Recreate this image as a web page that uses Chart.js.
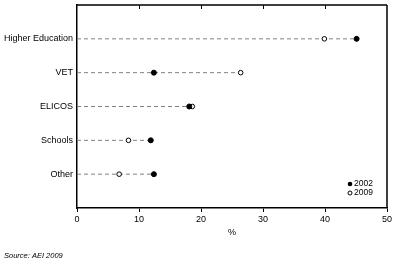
<!DOCTYPE html>
<html><head><meta charset="utf-8">
<script src="https://cdn.jsdelivr.net/npm/chart.js@4/dist/chart.umd.min.js"></script>
<style>html,body{margin:0;padding:0;background:#fff}#wrap{width:397px;height:265px}</style>
</head><body><div id="wrap"><canvas id="c" width="397" height="265"></canvas></div>
<script>
const categories = ["Higher Education", "VET", "ELICOS", "Schools", "Other"];
const values2002 = [45.1, 12.4, 18.1, 11.9, 12.4];
const values2009 = [39.9, 26.4, 18.6, 8.3, 6.8];
const seriesNames = ["2002", "2009"];
const xTicks = [0, 10, 20, 30, 40, 50];
const sourceText = "Source: AEI 2009";
const axisTitle = "%";

const FONT = "'Liberation Sans', Arial, sans-serif";

const lineSets = categories.map((c, i) => ({
  type: 'line',
  data: [{x: 0, y: i + 1}, {x: Math.max(values2002[i], values2009[i]), y: i + 1}],
  borderColor: '#808080', borderWidth: 1, borderDash: [4, 3],
  pointRadius: 0, fill: false, order: 3
}));

const frame = {
  id: 'frame',
  afterDraw(chart) {
    const ctx = chart.ctx, a = chart.chartArea, xs = chart.scales.x;
    ctx.save();
    ctx.strokeStyle = '#000'; ctx.lineWidth = 1.5;
    ctx.beginPath();
    ctx.moveTo(a.left, a.top); ctx.lineTo(a.right, a.top);
    ctx.moveTo(a.right, a.top); ctx.lineTo(a.right, a.bottom);
    ctx.stroke();
    ctx.lineWidth = 1;
    xTicks.slice(1, -1).forEach(v => {
      const px = Math.round(xs.getPixelForValue(v)) + 0.5;
      ctx.beginPath(); ctx.moveTo(px, a.top); ctx.lineTo(px, a.top + 4); ctx.stroke();
    });
    // legend
    ctx.font = '8.5px ' + FONT; ctx.fillStyle = '#000'; ctx.textBaseline = 'middle';
    const lx = a.right - 37;
    const ly = [a.bottom - 24, a.bottom - 15];
    ctx.beginPath(); ctx.arc(lx, ly[0], 2.3, 0, Math.PI * 2); ctx.fill();
    ctx.beginPath(); ctx.arc(lx, ly[1], 2, 0, Math.PI * 2); ctx.lineWidth = 1; ctx.stroke();
    ctx.fillText(seriesNames[0], lx + 4, ly[0]);
    ctx.fillText(seriesNames[1], lx + 4, ly[1]);
    // source
    ctx.font = 'italic 7.5px ' + FONT;
    ctx.fillText(sourceText, 4, 256);
    ctx.restore();
  }
};

new Chart(document.getElementById('c'), {
  type: 'scatter',
  data: {
    datasets: [
      ...lineSets,
      { label: seriesNames[0], data: values2002.map((v, i) => ({x: v, y: i + 1})),
        pointStyle: 'circle', pointRadius: 2.5, backgroundColor: '#000', borderColor: '#000', borderWidth: 1, order: 1 },
      { label: seriesNames[1], data: values2009.map((v, i) => ({x: v, y: i + 1})),
        pointStyle: 'circle', pointRadius: 2.3, backgroundColor: '#fff', borderColor: '#000', borderWidth: 1, order: 2 }
    ]
  },
  options: {
    responsive: false, animation: false, devicePixelRatio: 1,
    layout: { padding: { top: 5, right: 10, left: 0, bottom: 27 } },
    plugins: { legend: { display: false }, tooltip: { enabled: false } },
    scales: {
      x: {
        type: 'linear', min: 0, max: 50,
        afterBuildTicks: s => { s.ticks = xTicks.map(v => ({value: v})); },
        ticks: { color: '#000', font: { family: FONT, size: 9 }, padding: 2, maxRotation: 0 },
        grid: { display: true, drawOnChartArea: false, drawTicks: true, tickLength: 4, color: '#000', lineWidth: 1 },
        border: { display: true, color: '#000', width: 1.5 },
        title: { display: true, text: axisTitle, color: '#000', font: { family: FONT, size: 9 }, padding: { top: 2, bottom: 0 } },
        afterFit: s => { s.height = 30; s.paddingLeft = 0; s.paddingRight = 0; }
      },
      y: {
        type: 'linear', min: 0, max: 6, reverse: true,
        afterBuildTicks: s => { s.ticks = categories.map((c, i) => ({value: i + 1})); },
        ticks: { color: '#000', font: { family: FONT, size: 9 }, padding: 4,
          callback: v => categories[v - 1] || '' },
        grid: { display: false, drawTicks: false, tickLength: 0 },
        border: { display: true, color: '#000', width: 1.5 },
        afterFit: s => { s.width = 77; s.paddingTop = 0; s.paddingBottom = 0; }
      }
    }
  },
  plugins: [frame]
});
</script></body></html>
